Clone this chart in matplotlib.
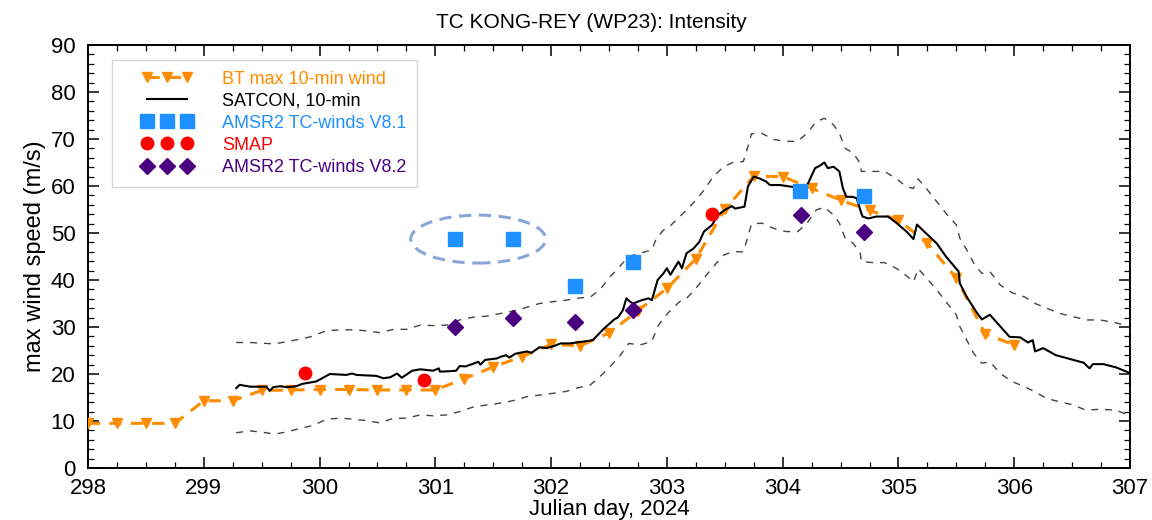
import matplotlib
matplotlib.use("Agg")
import matplotlib.pyplot as plt
from matplotlib.patches import Ellipse
from matplotlib.ticker import MultipleLocator
from matplotlib.legend_handler import HandlerLine2D

plt.rcParams['font.family'] = ['Liberation Sans', 'DejaVu Sans']

# ---------------- data ----------------
bt_day = [298.0, 298.25, 298.5, 298.75, 299.0, 299.25, 299.5, 299.75, 300.0, 300.25,
          300.5, 300.75, 301.0, 301.25, 301.5, 301.75, 302.0, 302.25, 302.5, 302.75,
          303.0, 303.25, 303.5, 303.75, 304.0, 304.25, 304.5, 304.75, 305.0, 305.25,
          305.5, 305.75, 306.0]
bt_wind = [9.5, 9.5, 9.5, 9.5, 14.3, 14.3, 16.5, 16.6, 16.7, 16.7,
           16.6, 16.6, 16.6, 19.0, 21.5, 23.7, 26.3, 26.0, 28.7, 33.5,
           38.2, 44.5, 55.0, 62.1, 62.0, 59.5, 57.0, 54.8, 52.8, 47.8,
           40.4, 28.5, 26.2]

satcon_day = [299.28, 299.31, 299.40, 299.54, 299.57, 299.60, 299.66, 299.72, 299.80, 299.85,
              299.97, 300.06, 300.09, 300.23, 300.28, 300.32, 300.49, 300.55, 300.61, 300.67,
              300.71, 300.80, 300.87, 300.98, 301.03, 301.04, 301.13, 301.18, 301.21, 301.26,
              301.34, 301.37, 301.39, 301.43, 301.53, 301.57, 301.61, 301.64, 301.69, 301.79,
              301.83, 301.90, 301.96, 302.03, 302.08, 302.16, 302.22, 302.31, 302.36, 302.45,
              302.54, 302.58, 302.62, 302.65, 302.68, 302.71, 302.77, 302.84, 302.87, 302.92,
              302.97, 303.00, 303.03, 303.10, 303.13, 303.17, 303.23, 303.28, 303.32, 303.39,
              303.44, 303.50, 303.56, 303.59, 303.67, 303.70, 303.75, 303.80, 303.86, 303.89,
              303.98, 304.06, 304.12, 304.18, 304.22, 304.28, 304.32, 304.36, 304.39, 304.44,
              304.49, 304.52, 304.55, 304.60, 304.64, 304.67, 304.69, 304.74, 304.81, 304.91,
              304.98, 305.07, 305.13, 305.16, 305.21, 305.33, 305.41, 305.52, 305.53, 305.59,
              305.67, 305.72, 305.79, 305.88, 305.96, 306.05, 306.12, 306.16, 306.18, 306.25,
              306.36, 306.51, 306.60, 306.65, 306.68, 306.77, 306.88, 306.99, 307.0]
satcon_wind = [17.0, 17.7, 17.3, 17.3, 16.4, 17.2, 17.4, 17.2, 17.4, 17.9,
               18.4, 19.6, 20.0, 19.8, 20.1, 19.8, 19.6, 19.1, 19.3, 20.1,
               19.2, 20.7, 21.0, 20.7, 21.2, 20.5, 20.6, 20.7, 21.7, 21.6,
               22.3, 22.6, 22.0, 23.0, 23.3, 23.7, 24.0, 23.5, 24.3, 24.8,
               24.5, 25.7, 25.5, 26.0, 26.5, 26.5, 26.7, 27.0, 27.2, 29.5,
               31.5, 32.1, 33.6, 36.1, 35.4, 35.0, 35.6, 36.1, 35.7, 40.0,
               41.4, 42.5, 41.1, 43.9, 42.5, 45.7, 46.7, 48.1, 50.3, 51.7,
               53.8, 54.9, 55.7, 55.2, 55.6, 59.9, 62.0, 61.6, 60.9, 60.2,
               60.2, 59.9, 59.7, 59.3, 60.6, 63.8, 64.3, 65.0, 63.8, 64.1,
               63.1, 59.5, 57.7, 57.7, 57.4, 54.9, 53.5, 53.1, 53.5, 53.5,
               52.2, 50.3, 48.7, 51.8, 50.6, 47.8, 45.0, 41.8, 39.3, 36.4,
               33.3, 31.6, 32.6, 30.1, 27.9, 27.8, 26.7, 27.2, 24.8, 25.5,
               24.0, 23.0, 22.4, 21.2, 22.1, 22.1, 21.4, 20.3, 20.2]

upper_day = [299.28, 299.40, 299.54, 299.61, 299.72, 299.83, 299.92, 300.06, 300.18, 300.29,
             300.40, 300.52, 300.64, 300.75, 300.87, 300.98, 301.10, 301.21, 301.33, 301.44,
             301.59, 301.72, 301.79, 301.90, 302.02, 302.13, 302.22, 302.34, 302.42, 302.51,
             302.59, 302.67, 302.77, 302.87, 302.91, 302.97, 303.02, 303.17, 303.24, 303.32,
             303.40, 303.49, 303.57, 303.66, 303.70, 303.73, 303.82, 303.92, 304.03, 304.13,
             304.21, 304.29, 304.36, 304.44, 304.49, 304.54, 304.61, 304.67, 304.68, 304.78,
             304.88, 304.98, 305.07, 305.13, 305.17, 305.24, 305.33, 305.41, 305.50, 305.53,
             305.59, 305.65, 305.72, 305.79, 305.88, 305.98, 306.09, 306.18, 306.28, 306.39,
             306.51, 306.62, 306.74, 306.88, 306.98, 307.0]
upper_wind = [26.7, 26.7, 26.5, 26.4, 26.9, 27.4, 27.9, 29.2, 29.4, 29.4,
              29.2, 28.8, 29.5, 29.5, 30.4, 30.3, 30.4, 31.5, 32.1, 32.3,
              33.0, 33.6, 34.2, 35.0, 35.4, 35.7, 36.1, 36.4, 37.9, 40.7,
              42.8, 45.0, 45.7, 46.4, 48.9, 50.6, 51.3, 54.9, 56.7, 59.1,
              62.0, 64.1, 65.0, 65.2, 68.4, 71.1, 71.2, 69.9, 69.5, 69.5,
              71.2, 73.7, 74.4, 73.0, 71.2, 68.0, 67.0, 64.8, 63.1, 63.1,
              63.1, 61.6, 59.8, 59.5, 61.5, 59.5, 56.7, 54.2, 51.7, 48.9,
              46.4, 43.6, 41.4, 41.8, 38.9, 37.3, 36.4, 35.0, 34.0, 32.9,
              32.2, 31.5, 31.5, 30.9, 30.1, 30.0]

lower_day = [299.28, 299.40, 299.54, 299.61, 299.72, 299.83, 299.95, 300.06, 300.18, 300.29,
             300.40, 300.52, 300.64, 300.75, 300.87, 300.98, 301.10, 301.21, 301.33, 301.44,
             301.59, 301.72, 301.79, 301.90, 302.02, 302.13, 302.22, 302.34, 302.42, 302.51,
             302.59, 302.67, 302.77, 302.87, 302.92, 302.97, 303.01, 303.11, 303.17, 303.24,
             303.32, 303.40, 303.49, 303.57, 303.66, 303.70, 303.73, 303.82, 303.92, 304.03,
             304.13, 304.21, 304.29, 304.36, 304.44, 304.49, 304.54, 304.61, 304.67, 304.68,
             304.78, 304.88, 304.98, 305.07, 305.13, 305.17, 305.24, 305.33, 305.41, 305.50,
             305.53, 305.59, 305.65, 305.72, 305.79, 305.88, 305.98, 306.09, 306.18, 306.28,
             306.39, 306.51, 306.62, 306.74, 306.88, 306.98, 307.0]
lower_wind = [7.5, 7.9, 7.5, 7.2, 7.7, 8.4, 9.1, 10.4, 10.6, 10.4,
              10.1, 9.6, 10.6, 10.6, 11.3, 11.1, 11.3, 12.0, 13.0, 13.4,
              13.9, 14.6, 15.2, 15.5, 15.9, 16.3, 17.0, 17.7, 19.4, 21.6,
              23.7, 26.5, 26.2, 26.9, 30.1, 31.8, 33.0, 35.4, 36.1, 37.9,
              40.4, 42.8, 45.3, 46.0, 46.0, 49.2, 51.9, 52.1, 51.0, 50.3,
              50.3, 52.1, 54.9, 55.5, 53.8, 52.1, 48.9, 47.8, 45.7, 43.9,
              43.7, 43.7, 42.5, 40.9, 39.6, 42.4, 40.5, 37.9, 35.4, 32.6,
              30.1, 27.2, 24.4, 22.3, 22.6, 20.1, 18.4, 17.3, 16.2, 14.8,
              14.1, 13.4, 12.3, 12.5, 12.3, 11.3, 11.2]

amsr81_day = [301.17, 301.67, 302.21, 302.71, 304.15, 304.70]
amsr81_wind = [48.7, 48.7, 38.8, 43.9, 59.0, 57.8]

smap_day = [299.87, 300.90, 303.39]
smap_wind = [20.3, 18.7, 54.0]

amsr82_day = [301.17, 301.67, 302.21, 302.71, 304.16, 304.70]
amsr82_wind = [29.9, 31.9, 31.0, 33.6, 53.8, 50.3]

x_ticks = [298, 299, 300, 301, 302, 303, 304, 305, 306, 307]
y_ticks = [0, 10, 20, 30, 40, 50, 60, 70, 80, 90]

# ---------------- plot ----------------
fig = plt.figure(figsize=(11.52, 5.2), dpi=100)
ax = fig.add_axes([0.0764, 0.1, 0.9045, 0.8135])

orange = '#ff8c00'
blue = '#1e90ff'
purple = '#4b0082'

ax.plot(upper_day, upper_wind, color='#444444', lw=1.0, ls=(0, (5, 5)), zorder=2)
ax.plot(lower_day, lower_wind, color='#444444', lw=1.0, ls=(0, (5, 5)), zorder=2)

h_bt, = ax.plot(bt_day, bt_wind, color=orange, lw=2.2, ls=(0, (4, 3)), marker='v',
                markersize=7, zorder=3, label='BT max 10-min wind')
h_sat, = ax.plot(satcon_day, satcon_wind, color='black', lw=1.5, zorder=4,
                 label='SATCON, 10-min')
h_a81, = ax.plot(amsr81_day, amsr81_wind, ls='none', marker='s', markersize=9.5,
                 color=blue, zorder=5, label='AMSR2 TC-winds V8.1')
h_smap, = ax.plot(smap_day, smap_wind, ls='none', marker='o', markersize=9,
                  color='red', zorder=5, label='SMAP')
h_a82, = ax.plot(amsr82_day, amsr82_wind, ls='none', marker='D', markersize=8.5,
                 color=purple, zorder=5, label='AMSR2 TC-winds V8.2')

ell = Ellipse((301.37, 48.7), width=1.166, height=10.2, fill=False,
              edgecolor='#8aa6d8', lw=2.2, ls=(0, (4, 2.5)), zorder=4)
ax.add_patch(ell)

ax.set_xlim(298, 307)
ax.set_ylim(0, 90)
ax.set_xticks(x_ticks)
ax.set_yticks(y_ticks)
ax.xaxis.set_minor_locator(MultipleLocator(0.25))
ax.yaxis.set_minor_locator(MultipleLocator(2))
ax.tick_params(which='both', direction='in', top=True, right=True, labelsize=16)
ax.tick_params(which='major', length=8, width=1.1)
ax.tick_params(which='minor', length=4.5, width=0.9)
ax.tick_params(axis='x', which='both', pad=7.5)
ax.tick_params(axis='y', which='both', pad=9)
for s in ax.spines.values():
    s.set_linewidth(1.4)

ax.set_xlabel('Julian day, 2024', fontsize=16, labelpad=0)
ax.set_ylabel('max wind speed (m/s)', fontsize=17, labelpad=3)
ax.set_title('TC KONG-REY (WP23): Intensity', fontsize=15, pad=12, x=0.483)

hmap = {h: HandlerLine2D(numpoints=3, xpad=1.03) for h in [h_bt, h_sat, h_a81, h_smap, h_a82]}
leg = ax.legend(handles=[h_bt, h_sat, h_a81, h_smap, h_a82], loc='upper left',
                bbox_to_anchor=(0.023, 0.965), handler_map=hmap, handlelength=3.84,
                handletextpad=1.65, labelspacing=0.28, borderpad=0.6,
                fontsize=13, frameon=True, fancybox=False, borderaxespad=0)
leg.get_frame().set_edgecolor('#cccccc')
leg.get_frame().set_linewidth(1.0)
for txt, c in zip(leg.get_texts(), [orange, 'black', blue, 'red', purple]):
    txt.set_color(c)

fig.savefig('out.png', dpi=100)
